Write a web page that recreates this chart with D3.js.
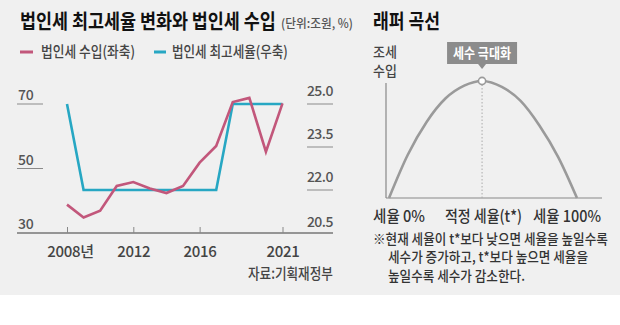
<!DOCTYPE html>
<html><head><meta charset="utf-8">
<script src="https://cdn.jsdelivr.net/npm/d3@7/dist/d3.min.js"></script>
<style>
html,body{margin:0;padding:0;background:#fff;}
svg{display:block;font-family:"Noto Sans CJK KR","Noto Sans",sans-serif;}
</style></head>
<body><svg id="c" width="620" height="325"></svg>
<script>
// ---- data ----
const years = [2008,2009,2010,2011,2012,2013,2014,2015,2016,2017,2018,2019,2020,2021];
const revenue = [38.8,34.8,36.9,44.6,45.8,43.8,42.4,44.6,51.8,57.0,70.6,71.9,55.2,70.2]; // 조원 (left axis)
const taxRate = [25,22,22,22,22,22,22,22,22,22,25,25,25,25]; // % (right axis)
const xTicks = [2008,2012,2016,2021];
const leftTicks = [30,50,70];
const rightTicks = [20.5,22.0,23.5,25.0];
// Laffer curve (conceptual) – tax rate % vs relative revenue
const lafferRate = [0,10,20,30,40,49.5,60,70,80,90,100];
const lafferRev  = [0,37,65,85,96,100,95,83,62,35,0];
const optimalRate = 49.5;
const noteLines = ["※현재 세율이 t*보다 낮으면 세율을 높일수록","세수가 증가하고, t*보다 높으면 세율을","높일수록 세수가 감소한다."];

const svg = d3.select("#c");
svg.append("rect").attr("width",620).attr("height",295).attr("fill","#f0f0f0");

// text fitted to a target width by a horizontal scale (start anchored)
function txt(x,y,s,o={}){
  const t = svg.append("text").attr("x",x).attr("y",y).text(s)
    .attr("font-size",o.size||13).attr("fill",o.fill||"#444")
    .attr("font-weight",o.weight||500).attr("text-anchor",o.anchor||"start");
  if(o.len){
    const w = t.node().getComputedTextLength();
    const k = o.len / w;
    t.attr("x", x/k).attr("transform",`scale(${k},1)`);
  }
  return t;
}

// ---- left chart ----
txt(20,29,"법인세 최고세율 변화와 법인세 수입",{size:20,weight:700,fill:"#111",len:256});
txt(281,28,"(단위:조원, %)",{size:12.5,fill:"#555",len:72});

const pink="#c2577b", cyan="#27a7c3";
svg.append("line").attr("x1",20).attr("x2",33).attr("y1",52).attr("y2",52).attr("stroke",pink).attr("stroke-width",3);
txt(41,57.5,"법인세 수입(좌축)",{size:15,fill:"#444",len:94});
svg.append("line").attr("x1",154).attr("x2",166).attr("y1",52).attr("y2",52).attr("stroke",cyan).attr("stroke-width",3);
txt(172,57.5,"법인세 최고세율(우축)",{size:15,fill:"#444",len:116});

const x = d3.scaleLinear().domain([2008,2021]).range([67,282.5]);
const yL = d3.scaleLinear().domain([30,70]).range([233,104]);
const yR = d3.scaleLinear().domain([20.5,25]).range([233,104]);

// left tick labels with short underlines
leftTicks.forEach(v=>{
  const yy=yL(v);
  if(v!==30) svg.append("line").attr("x1",17).attr("x2",43).attr("y1",yy).attr("y2",yy).attr("stroke","#8a8a8a").attr("stroke-width",1);
  txt(18,yy-4,String(v),{size:14,fill:"#555"}).attr("letter-spacing",-0.3);
});
rightTicks.forEach(v=>{
  const yy=yR(v);
  if(v!==20.5) svg.append("line").attr("x1",307).attr("x2",333).attr("y1",yy).attr("y2",yy).attr("stroke","#8a8a8a").attr("stroke-width",1);
  txt(333,yy-(v===20.5?6:8),v.toFixed(1),{size:14,fill:"#555",anchor:"end"}).attr("letter-spacing",-0.5);
});

// x axis
svg.append("line").attr("x1",17).attr("x2",333).attr("y1",233).attr("y2",233).attr("stroke","#777").attr("stroke-width",1.3);
const ax = svg.append("g").attr("transform","translate(0,233)")
  .call(d3.axisBottom(x).tickValues(xTicks).tickSize(-6).tickFormat(d=>d===2008?d+"년":String(d)));
ax.select(".domain").remove();
ax.selectAll(".tick line").attr("stroke","#888");
ax.selectAll(".tick text").attr("y",24).attr("dy",0).attr("font-size",15).attr("font-weight",500)
  .attr("font-family","\"Noto Sans CJK KR\",sans-serif").attr("fill","#444").attr("letter-spacing",-0.3)
  .attr("dx",d=>d===2008?3:0);

// lines
const lineR = d3.line().x((d,i)=>x(years[i])).y(d=>yR(d));
const lineL = d3.line().x((d,i)=>x(years[i])).y(d=>yL(d));
svg.append("path").datum(taxRate).attr("d",lineR).attr("fill","none").attr("stroke",cyan).attr("stroke-width",2.6).attr("stroke-linejoin","miter");
svg.append("path").datum(revenue).attr("d",lineL).attr("fill","none").attr("stroke",pink).attr("stroke-width",2.6).attr("stroke-linejoin","miter");

txt(248,279.5,"자료:기획재정부",{size:15,fill:"#444",len:85});

// ---- right chart: Laffer curve ----
txt(373,29,"래퍼 곡선",{size:20,weight:700,fill:"#111",len:67});
txt(373,57,"조세",{size:14,fill:"#444",len:24});
txt(373,76,"수입",{size:14,fill:"#444",len:24});

const lx = d3.scaleLinear().domain([0,100]).range([389,577]);
const ly = d3.scaleLinear().domain([0,100]).range([198,81]);

svg.append("line").attr("x1",386).attr("x2",386).attr("y1",83).attr("y2",198).attr("stroke","#888").attr("stroke-width",1.2);
svg.append("line").attr("x1",386).attr("x2",602).attr("y1",198).attr("y2",198).attr("stroke","#888").attr("stroke-width",1.2);

svg.append("line").attr("x1",lx(optimalRate)).attr("x2",lx(optimalRate)).attr("y1",ly(100)).attr("y2",198)
  .attr("stroke","#aaa").attr("stroke-width",1).attr("stroke-dasharray","1.5,2");

const lline = d3.line().x((d,i)=>lx(lafferRate[i])).y(d=>ly(d)).curve(d3.curveMonotoneX);
svg.append("path").datum(lafferRev).attr("d",lline).attr("fill","none").attr("stroke","#9a9a9a").attr("stroke-width",2.6);
svg.append("circle").attr("cx",lx(optimalRate)).attr("cy",ly(100)).attr("r",3.6).attr("fill","#fff").attr("stroke","#9a9a9a").attr("stroke-width",1.6);

// label box
const px=lx(optimalRate);
svg.append("rect").attr("x",px-35).attr("y",42).attr("width",70).attr("height",22).attr("fill","#8c8c8c");
svg.append("path").attr("d",`M${px-4},64L${px+4},64L${px},69Z`).attr("fill","#8c8c8c");
txt(px-29,58,"세수 극대화",{size:14,weight:700,fill:"#fff",len:58});

txt(373,222,"세율 0%",{size:16,fill:"#333",len:52});
txt(445,222,"적정 세율(t*)",{size:16,fill:"#333",len:77});
txt(533,222,"세율 100%",{size:16,fill:"#333",len:68});

// note: one text with three lines, horizontally condensed to fit
const note = svg.append("text").attr("font-size",14).attr("font-weight",500).attr("fill","#333");
const noteX=[373,388,388], noteY=[244,262.5,281];
const spans = noteLines.map((s,i)=>note.append("tspan").attr("x",noteX[i]).attr("y",noteY[i]).text(s));
const w0 = spans[0].node().getComputedTextLength();
const sx = 235 / w0;
note.attr("transform",`scale(${sx},1)`);
spans.forEach((sp,i)=>sp.attr("x",noteX[i]/sx));
</script></body></html>
